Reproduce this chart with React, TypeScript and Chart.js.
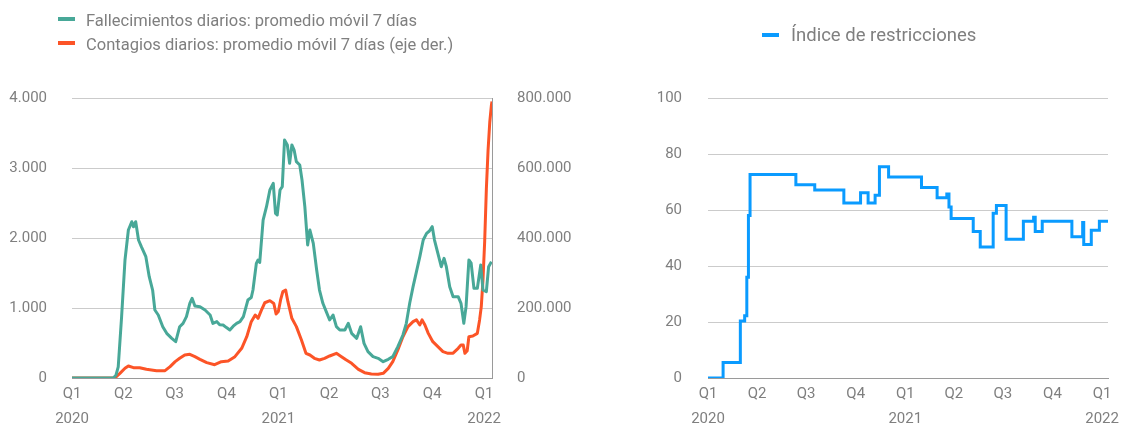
import React, { useEffect, useRef } from "react";
import { Chart, registerables } from "chart.js";

Chart.register(...registerables);

// ---- axis labels ----
const quarterDays = [0, 91, 182, 274, 366, 456, 547, 639, 731];
const quarterLabels = ["Q1", "Q2", "Q3", "Q4", "Q1", "Q2", "Q3", "Q4", "Q1"];
const yearLabels = ["2020", "", "", "", "2021", "", "", "", "2022"];

// ---- series labels ----
const deathLabel = "Fallecimientos diarios: promedio móvil 7 días";
const caseLabel = "Contagios diarios: promedio móvil 7 días (eje der.)";
const stringencyLabel = "Índice de restricciones";

// ---- data: days since 2020-01-01 ----
const deathDays = [
  0, 73, 78, 82, 88, 94, 100, 106, 109, 113, 118, 123, 131, 137, 143, 147, 153, 161, 168, 177,
  184, 191, 197, 203, 209, 213, 218, 227, 236, 245, 250, 257, 262, 268, 274, 280, 286, 292, 298, 304,
  312, 318, 321, 327, 330, 333, 339, 345, 351, 357, 361, 364, 369, 373, 377, 382, 386, 390, 394, 398,
  404, 408, 413, 418, 422, 428, 434, 439, 445, 451, 457, 463, 469, 475, 484, 490, 496, 505, 512, 518,
  525, 534, 543, 552, 561, 569, 578, 587, 593, 599, 605, 611, 617, 623, 629, 634, 639, 643, 649, 655,
  660, 664, 670, 676, 685, 690, 695, 699, 704, 708, 713, 719, 725, 729, 735, 739, 744,
];
const deathValues = [
  0, 0, 40, 160, 876, 1686, 2114, 2233, 2160, 2233, 1971, 1876, 1733, 1448, 1257, 971, 900, 733, 638, 567,
  519, 733, 781, 876, 1067, 1138, 1029, 1019, 971, 900, 780, 805, 760, 757, 720, 686, 740, 781, 805, 876,
  1114, 1150, 1257, 1638, 1686, 1650, 2257, 2447, 2686, 2781, 2352, 2329, 2686, 2733, 3400, 3329, 3067, 3329, 3257, 3090,
  3043, 2829, 2447, 1900, 2114, 1924, 1543, 1257, 1067, 948, 829, 900, 733, 686, 686, 781, 638, 567, 733, 495,
  376, 305, 281, 233, 267, 305, 448, 614, 781, 1067, 1305, 1519, 1733, 1971, 2067, 2100, 2162, 1971, 1781, 1590,
  1710, 1590, 1305, 1162, 1162, 1067, 781, 1019, 1686, 1640, 1281, 1281, 1614, 1257, 1233, 1590, 1662,
];

const caseDays = [
  0, 76, 85, 94, 100, 109, 120, 132, 150, 165, 174, 183, 191, 200, 209, 218, 227, 239, 253, 265,
  277, 289, 301, 310, 318, 325, 330, 336, 342, 351, 358, 362, 366, 370, 374, 379, 383, 390, 398, 407,
  415, 422, 430, 439, 448, 457, 469, 478, 486, 496, 508, 519, 531, 543, 552, 561, 569, 578, 587, 596,
  605, 611, 617, 621, 626, 632, 640, 649, 658, 667, 676, 685, 690, 694, 697, 701, 704, 711, 719, 723,
  726, 729, 732, 735, 738, 741, 744, 745,
];
const caseValues = [
  0, 0, 13400, 27700, 34300, 29500, 29500, 24800, 21000, 21000, 32400, 46700, 56200, 65700, 67600, 61000, 53300, 43800, 38000, 46700,
  48600, 61000, 84800, 118000, 161000, 180000, 170500, 194000, 215000, 221000, 213000, 183000, 190000, 223000, 246600, 251000, 218000, 170500, 146700, 108600,
  70500, 65700, 56200, 51400, 56200, 62900, 70500, 61000, 52000, 42000, 24800, 15200, 11400, 10500, 13300, 27600, 46700, 80000, 118000, 146700,
  161000, 166000, 151400, 166000, 151400, 127600, 103800, 89500, 75200, 70500, 71000, 84800, 94300, 94000, 70500, 78000, 118000, 120000, 127600, 166000,
  204000, 280000, 390000, 540000, 650000, 730000, 780000, 790000,
];

const stringencyDays = [
  0, 28, 60, 68, 72, 75, 78, 163, 198, 252, 283, 297, 310, 318, 335, 396, 425, 443, 447, 451,
  492, 505, 529, 535, 553, 585, 604, 607, 620, 675, 695, 697, 711, 726, 742,
];
const stringencyValues = [
  0, 5.56, 20.37, 22.22, 36, 58, 72.69, 68.98, 67.13, 62.5, 66.2, 62.5, 65.28, 75.46, 71.76, 68.06, 64.35, 65.74, 61.11, 56.94,
  52.31, 46.76, 58.8, 61.57, 49.54, 56.02, 57.41, 52.31, 56.02, 50.46, 55.56, 47.69, 52.78, 56.02, 56.02,
];

const deathTicks = [0, 1000, 2000, 3000, 4000];
const caseTicks = [0, 200000, 400000, 600000, 800000];
const stringencyTicks = [0, 20, 40, 60, 80, 100];

// ---- style ----
const TEAL = "#48a898";
const ORANGE = "#fc5427";
const BLUE = "#0a9bff";
const TEXT = "#7f7f7f";
const GRID = "#cbcbcb";
const FONT = "Roboto, 'DejaVu Sans', sans-serif";

const fmt = (v: number) => String(Math.round(v)).replace(/\B(?=(\d{3})+(?!\d))/g, ".");

function xScale(max: number) {
  return {
    type: "linear" as const,
    min: 0,
    max,
    afterBuildTicks: (s: any) => {
      s.ticks = quarterDays.map((v) => ({ value: v }));
    },
    afterFit: (s: any) => {
      s.height = 47;
    },
    ticks: {
      autoSkip: false,
      maxRotation: 0,
      minRotation: 0,
      padding: 3.5,
      color: TEXT,
      font: { family: FONT, size: 15, lineHeight: 1.66 },
      callback: (_v: any, i: number) =>
        yearLabels[i] ? [quarterLabels[i], yearLabels[i]] : quarterLabels[i],
    },
    grid: { display: false, drawTicks: false },
    border: { display: true, color: "#9a9a9a", dash: [2, 2], width: 1 },
  };
}

function gridColor(ctx: any) {
  return ctx.tick && ctx.tick.value === 0 ? "rgba(0,0,0,0)" : GRID;
}

export default function App() {
  const leftRef = useRef<HTMLCanvasElement>(null);
  const rightRef = useRef<HTMLCanvasElement>(null);

  useEffect(() => {
    const left = new Chart(leftRef.current!, {
      type: "line",
      data: {
        datasets: [
          {
            label: deathLabel,
            data: deathDays.map((d, i) => ({ x: d, y: deathValues[i] })),
            yAxisID: "y",
            borderColor: TEAL,
            backgroundColor: TEAL,
            borderWidth: 3,
            pointRadius: 0,
            tension: 0,
            borderJoinStyle: "round",
          },
          {
            label: caseLabel,
            data: caseDays.map((d, i) => ({ x: d, y: caseValues[i] })),
            yAxisID: "y1",
            borderColor: ORANGE,
            backgroundColor: ORANGE,
            borderWidth: 3,
            pointRadius: 0,
            tension: 0,
            borderJoinStyle: "round",
          },
        ],
      },
      options: {
        responsive: false,
        animation: false,
        devicePixelRatio: 1,
        layout: { padding: { top: 98, left: 0, right: 0, bottom: 0 } },
        plugins: { legend: { display: false }, tooltip: { enabled: false } },
        scales: {
          x: xScale(745) as any,
          y: {
            position: "left",
            min: 0,
            max: 4000,
            afterBuildTicks: (s: any) => {
              s.ticks = deathTicks.map((v) => ({ value: v }));
            },
            afterFit: (s: any) => {
              s.width = 72;
            },
            ticks: {
              padding: 25,
              color: TEXT,
              font: { family: FONT, size: 15 },
              callback: (v: any) => fmt(Number(v)),
            },
            grid: { color: gridColor, drawTicks: false, lineWidth: 1 },
            border: { display: false },
          },
          y1: {
            position: "right",
            min: 0,
            max: 800000,
            afterBuildTicks: (s: any) => {
              s.ticks = caseTicks.map((v) => ({ value: v }));
            },
            afterFit: (s: any) => {
              s.width = 108;
            },
            ticks: {
              padding: 25,
              color: TEXT,
              font: { family: FONT, size: 15 },
              callback: (v: any) => fmt(Number(v)),
            },
            grid: { display: false, drawTicks: false },
            border: { display: true, color: "#9a9a9a", dash: [2, 2], width: 1 },
          },
        },
      },
    });

    const right = new Chart(rightRef.current!, {
      type: "line",
      data: {
        datasets: [
          {
            label: stringencyLabel,
            data: stringencyDays.map((d, i) => ({ x: d, y: stringencyValues[i] })),
            borderColor: BLUE,
            backgroundColor: BLUE,
            borderWidth: 3,
            pointRadius: 0,
            stepped: true,
          },
        ],
      },
      options: {
        responsive: false,
        animation: false,
        devicePixelRatio: 1,
        layout: { padding: { top: 98, left: 0, right: 18, bottom: 0 } },
        plugins: { legend: { display: false }, tooltip: { enabled: false } },
        scales: {
          x: xScale(742) as any,
          y: {
            position: "left",
            min: 0,
            max: 100,
            afterBuildTicks: (s: any) => {
              s.ticks = stringencyTicks.map((v) => ({ value: v }));
            },
            afterFit: (s: any) => {
              s.width = 108;
            },
            ticks: {
              padding: 26,
              color: TEXT,
              font: { family: FONT, size: 15 },
            },
            grid: { color: gridColor, drawTicks: false, lineWidth: 1 },
            border: { display: false },
          },
        },
      },
    });

    return () => {
      left.destroy();
      right.destroy();
    };
  }, []);

  const legendText = (size: number): React.CSSProperties => ({
    position: "absolute",
    fontFamily: FONT,
    fontSize: size,
    lineHeight: "22px",
    color: TEXT,
    whiteSpace: "nowrap",
  });
  const swatch = (left: number, top: number, color: string): React.CSSProperties => ({
    position: "absolute",
    left,
    top,
    width: 17,
    height: 4,
    background: color,
  });

  return (
    <div style={{ position: "absolute", left: 0, top: 0, width: 1126, height: 425, background: "#fff" }}>
      <canvas
        ref={leftRef}
        width={600}
        height={425}
        style={{ position: "absolute", left: 0, top: 0, width: 600, height: 425 }}
      />
      <canvas
        ref={rightRef}
        width={526}
        height={425}
        style={{ position: "absolute", left: 600, top: 0, width: 526, height: 425 }}
      />
      <div style={swatch(58, 17, TEAL)} />
      <div style={{ ...legendText(16.5), left: 86, top: 10 }}>{deathLabel}</div>
      <div style={swatch(58, 41, ORANGE)} />
      <div style={{ ...legendText(16.5), left: 86, top: 34 }}>{caseLabel}</div>
      <div style={swatch(762, 33, BLUE)} />
      <div style={{ ...legendText(18.5), left: 791, top: 24 }}>{stringencyLabel}</div>
    </div>
  );
}
